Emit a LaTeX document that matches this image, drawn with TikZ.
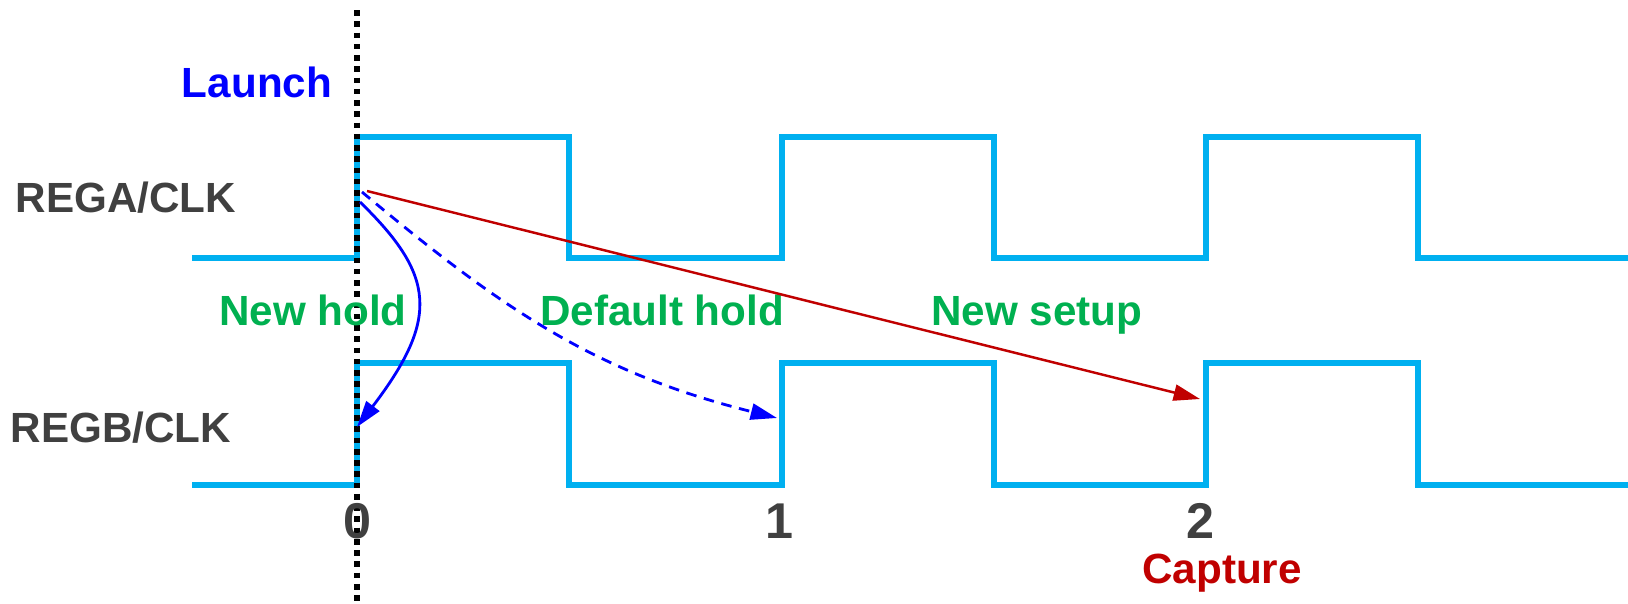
\documentclass[tikz,border=0pt]{standalone}
\usepackage{fontspec}
\setmainfont{Liberation Sans}
\usetikzlibrary{arrows.meta}
\definecolor{wave}{RGB}{0,176,240}
\definecolor{holdgreen}{RGB}{0,176,80}
\definecolor{launchblue}{RGB}{0,0,255}
\definecolor{capred}{RGB}{192,0,0}
\definecolor{textgray}{RGB}{64,64,64}
\begin{document}
\begin{tikzpicture}[x=0.01cm,y=-0.01cm,
  lbl/.style={inner sep=0pt, anchor=base, font=\fontsize{12}{14}\selectfont\bfseries},
  tick/.style={inner sep=0pt, anchor=base, text=textgray, font=\fontsize{14.3}{16}\selectfont\bfseries},
  clock/.style={wave, line width=1.5pt},
  marker/.style={black, line width=1.5pt, dash pattern=on 1.6pt off 1.6pt},
  tip/.style={-{Triangle[length=7.5pt,width=4.6pt]}},
  setup/.style={tip, capred, line width=0.7pt},
  hold/.style={tip, launchblue, line width=0.8pt}]
\useasboundingbox (0,0) rectangle (1628,603);

% clock waveforms
\draw[clock] (192,258) -- (357,258) -- (357,137) -- (569,137) -- (569,258)
  -- (782,258) -- (782,137) -- (994,137) -- (994,258) -- (1206,258)
  -- (1206,137) -- (1418,137) -- (1418,258) -- (1628,258);
\draw[clock] (192,485) -- (357,485) -- (357,363) -- (569,363) -- (569,485)
  -- (782,485) -- (782,363) -- (994,363) -- (994,485) -- (1206,485)
  -- (1206,363) -- (1418,363) -- (1418,485) -- (1628,485);

% launch edge marker
\coordinate (mtop) at (357,10);
\coordinate (mbot) at (357,603);
\draw[marker] (mtop) -- (mbot);

% labels
\node[lbl, text=textgray] (rega) at (126,212) {REGA/CLK};
\node[lbl, text=textgray] (regb) at (121,442) {REGB/CLK};
\node[lbl, text=launchblue] (launch) at (257,97) {Launch};
\node[lbl, text=holdgreen] (newhold) at (313,325) {New hold};
\node[lbl, text=holdgreen] (defhold) at (662,325) {Default hold};
\node[lbl, text=holdgreen] (newsetup) at (1037,325) {New setup};
\node[tick] (t0) at (357,538) {0};
\node[tick] (t1) at (779,538) {1};
\node[tick] (t2) at (1200,538) {2};
\node[lbl, text=capred] (capture) at (1222,583) {Capture};

% timing paths
\coordinate (srcsetup) at (367,191);
\coordinate (srcdef) at (362,192);
\coordinate (srcnew) at (360,202);
\coordinate (dstsetup) at (1200,399);
\coordinate (dstdef) at (777,418);
\coordinate (dstnew) at (357,427);
\draw[setup] (srcsetup) -- (dstsetup);
\draw[hold, dash pattern=on 3pt off 2.2pt] (srcdef) .. controls (504,311) and (597,373) .. (dstdef);
\draw[hold] (srcnew) .. controls (435,275) and (440,318) .. (dstnew);
\end{tikzpicture}
\end{document}
